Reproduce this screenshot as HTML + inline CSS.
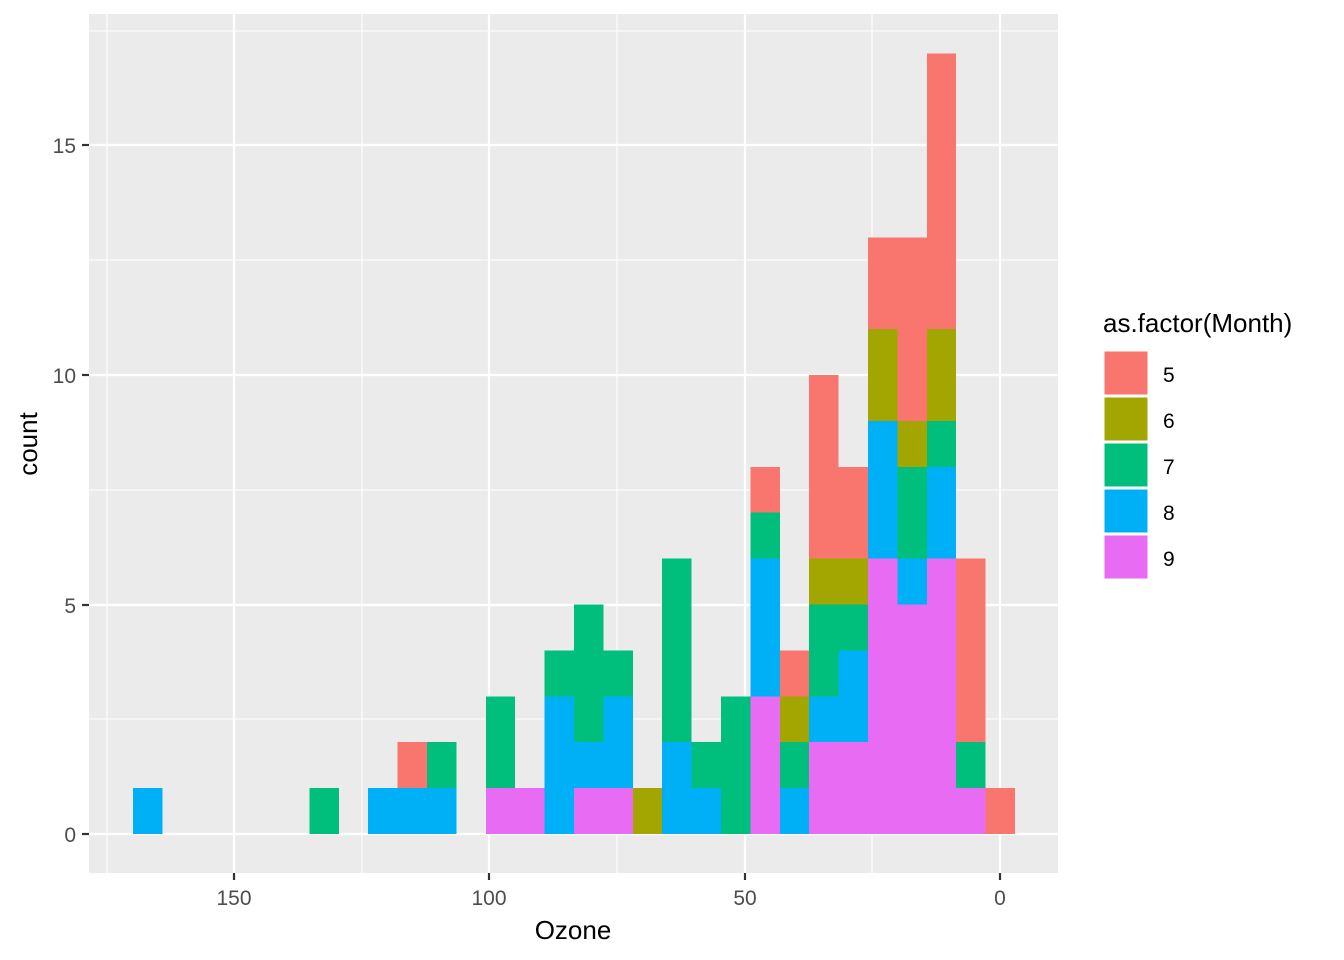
<!DOCTYPE html>
<html><head><style>body{margin:0;background:#fff}svg{display:block}text{font-family:"Liberation Sans",sans-serif}</style></head>
<body>
<svg width="1344" height="960" xmlns="http://www.w3.org/2000/svg">
<rect x="89" y="14" width="969" height="859" fill="#EBEBEB"/>
<g stroke="#fff" stroke-width="1.1">
<line x1="89" x2="1058" y1="719" y2="719"/><line x1="89" x2="1058" y1="490" y2="490"/><line x1="89" x2="1058" y1="260" y2="260"/><line x1="89" x2="1058" y1="31" y2="31"/>
<line y1="14" y2="873" x1="107" x2="107"/><line y1="14" y2="873" x1="362" x2="362"/><line y1="14" y2="873" x1="617" x2="617"/><line y1="14" y2="873" x1="872" x2="872"/>
</g>
<g stroke="#fff" stroke-width="2.2">
<line x1="89" x2="1058" y1="834" y2="834"/><line x1="89" x2="1058" y1="605" y2="605"/><line x1="89" x2="1058" y1="375" y2="375"/><line x1="89" x2="1058" y1="145" y2="145"/>
<line y1="14" y2="873" x1="234" x2="234"/><line y1="14" y2="873" x1="489" x2="489"/><line y1="14" y2="873" x1="745" x2="745"/><line y1="14" y2="873" x1="1000" x2="1000"/>
</g>
<g transform="translate(1015,834) scale(-29.4,-45.9)" shape-rendering="crispEdges">
<rect x="0" y="0" width="1" height="1" fill="#F8766D"/>
<rect x="1" y="0" width="1" height="1" fill="#E76BF3"/><rect x="1" y="1" width="1" height="1" fill="#00BF7D"/><rect x="1" y="2" width="1" height="4" fill="#F8766D"/>
<rect x="2" y="0" width="1" height="6" fill="#E76BF3"/><rect x="2" y="6" width="1" height="2" fill="#00B0F6"/><rect x="2" y="8" width="1" height="1" fill="#00BF7D"/><rect x="2" y="9" width="1" height="2" fill="#A3A500"/><rect x="2" y="11" width="1" height="6" fill="#F8766D"/>
<rect x="3" y="0" width="1" height="5" fill="#E76BF3"/><rect x="3" y="5" width="1" height="1" fill="#00B0F6"/><rect x="3" y="6" width="1" height="2" fill="#00BF7D"/><rect x="3" y="8" width="1" height="1" fill="#A3A500"/><rect x="3" y="9" width="1" height="4" fill="#F8766D"/>
<rect x="4" y="0" width="1" height="6" fill="#E76BF3"/><rect x="4" y="6" width="1" height="3" fill="#00B0F6"/><rect x="4" y="9" width="1" height="2" fill="#A3A500"/><rect x="4" y="11" width="1" height="2" fill="#F8766D"/>
<rect x="5" y="0" width="1" height="2" fill="#E76BF3"/><rect x="5" y="2" width="1" height="2" fill="#00B0F6"/><rect x="5" y="4" width="1" height="1" fill="#00BF7D"/><rect x="5" y="5" width="1" height="1" fill="#A3A500"/><rect x="5" y="6" width="1" height="2" fill="#F8766D"/>
<rect x="6" y="0" width="1" height="2" fill="#E76BF3"/><rect x="6" y="2" width="1" height="1" fill="#00B0F6"/><rect x="6" y="3" width="1" height="2" fill="#00BF7D"/><rect x="6" y="5" width="1" height="1" fill="#A3A500"/><rect x="6" y="6" width="1" height="4" fill="#F8766D"/>
<rect x="7" y="0" width="1" height="1" fill="#00B0F6"/><rect x="7" y="1" width="1" height="1" fill="#00BF7D"/><rect x="7" y="2" width="1" height="1" fill="#A3A500"/><rect x="7" y="3" width="1" height="1" fill="#F8766D"/>
<rect x="8" y="0" width="1" height="3" fill="#E76BF3"/><rect x="8" y="3" width="1" height="3" fill="#00B0F6"/><rect x="8" y="6" width="1" height="1" fill="#00BF7D"/><rect x="8" y="7" width="1" height="1" fill="#F8766D"/>
<rect x="9" y="0" width="1" height="3" fill="#00BF7D"/>
<rect x="10" y="0" width="1" height="1" fill="#00B0F6"/><rect x="10" y="1" width="1" height="1" fill="#00BF7D"/>
<rect x="11" y="0" width="1" height="2" fill="#00B0F6"/><rect x="11" y="2" width="1" height="4" fill="#00BF7D"/>
<rect x="12" y="0" width="1" height="1" fill="#A3A500"/>
<rect x="13" y="0" width="1" height="1" fill="#E76BF3"/><rect x="13" y="1" width="1" height="2" fill="#00B0F6"/><rect x="13" y="3" width="1" height="1" fill="#00BF7D"/>
<rect x="14" y="0" width="1" height="1" fill="#E76BF3"/><rect x="14" y="1" width="1" height="1" fill="#00B0F6"/><rect x="14" y="2" width="1" height="3" fill="#00BF7D"/>
<rect x="15" y="0" width="1" height="3" fill="#00B0F6"/><rect x="15" y="3" width="1" height="1" fill="#00BF7D"/>
<rect x="16" y="0" width="1" height="1" fill="#E76BF3"/>
<rect x="17" y="0" width="1" height="1" fill="#E76BF3"/><rect x="17" y="1" width="1" height="2" fill="#00BF7D"/>
<rect x="19" y="0" width="1" height="1" fill="#00B0F6"/><rect x="19" y="1" width="1" height="1" fill="#00BF7D"/>
<rect x="20" y="0" width="1" height="1" fill="#00B0F6"/><rect x="20" y="1" width="1" height="1" fill="#F8766D"/>
<rect x="21" y="0" width="1" height="1" fill="#00B0F6"/>
<rect x="23" y="0" width="1" height="1" fill="#00BF7D"/>
<rect x="29" y="0" width="1" height="1" fill="#00B0F6"/>
</g>
<g stroke="#333" stroke-width="2.2">
<line x1="82" x2="89" y1="834" y2="834"/><line x1="82" x2="89" y1="605" y2="605"/><line x1="82" x2="89" y1="375" y2="375"/><line x1="82" x2="89" y1="145" y2="145"/>
<line y1="873" y2="880" x1="234" x2="234"/><line y1="873" y2="880" x1="489" x2="489"/><line y1="873" y2="880" x1="745" x2="745"/><line y1="873" y2="880" x1="1000" x2="1000"/>
</g>
<g fill="#4D4D4D" font-size="21" text-anchor="end">
<text x="76" y="842">0</text><text x="76" y="613">5</text><text x="76" y="383">10</text><text x="76" y="153">15</text>
</g>
<g fill="#4D4D4D" font-size="21" text-anchor="middle">
<text x="234" y="905">150</text><text x="489" y="905">100</text><text x="745" y="905">50</text><text x="1000" y="905">0</text>
</g>
<text x="573" y="939" font-size="26" text-anchor="middle" fill="#000">Ozone</text>
<text transform="translate(37,444) rotate(-90)" font-size="26" text-anchor="middle" fill="#000">count</text>
<text x="1103" y="332" font-size="26" fill="#000">as.factor(Month)</text>
<g stroke="#fff" stroke-width="1">
<rect x="1104" y="351" width="44" height="44" fill="#F8766D"/>
<rect x="1104" y="397" width="44" height="44" fill="#A3A500"/>
<rect x="1104" y="443" width="44" height="44" fill="#00BF7D"/>
<rect x="1104" y="489" width="44" height="44" fill="#00B0F6"/>
<rect x="1104" y="535" width="44" height="44" fill="#E76BF3"/>
</g>
<g font-size="21" fill="#000">
<text x="1163" y="382">5</text><text x="1163" y="428">6</text><text x="1163" y="474">7</text><text x="1163" y="520">8</text><text x="1163" y="566">9</text>
</g>
</svg>
</body></html>
